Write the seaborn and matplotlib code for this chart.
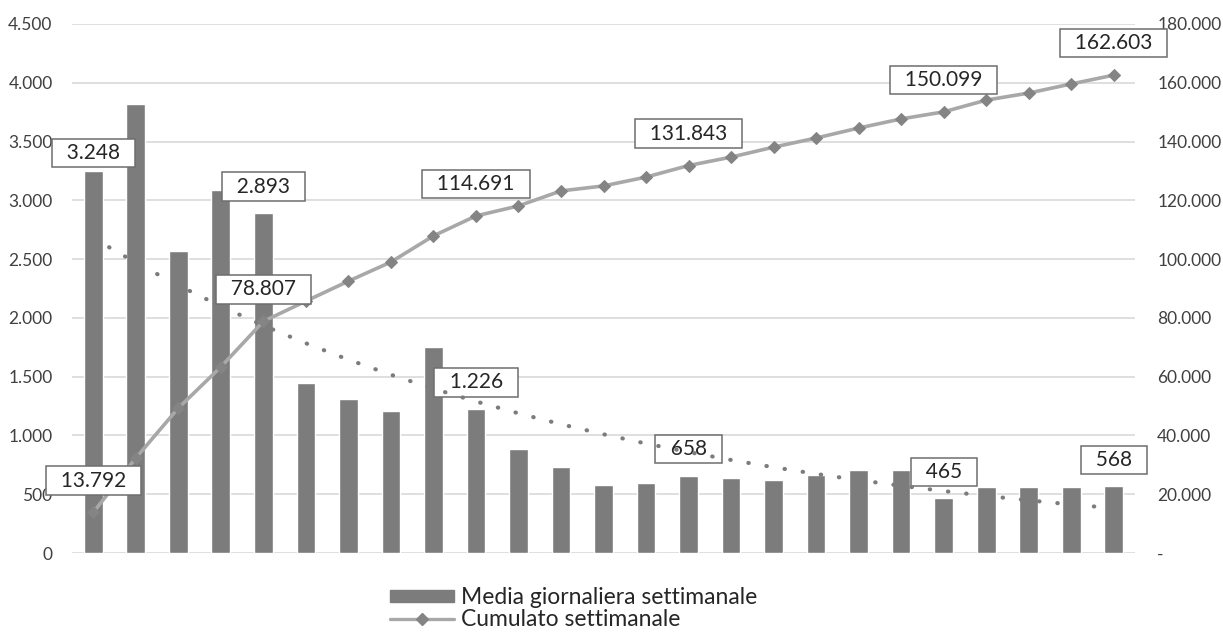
import numpy as np
import pandas as pd
import matplotlib
matplotlib.use("Agg")
import matplotlib.pyplot as plt
import matplotlib.ticker as mticker
from matplotlib.patches import Patch
from matplotlib.lines import Line2D
import seaborn as sns

# media giornaliera per settimana (asse sinistro)
media = [3248, 3820, 2565, 3088, 2893, 1450, 1310, 1208, 1752, 1226,
         885, 732, 580, 596, 658, 638, 621, 664, 706, 706,
         465, 562, 565, 565, 568]
# cumulato settimanale (asse destro)
cumulato = [13792, 32300, 49300, 63300, 78807, 85700, 92500, 99000, 107900, 114691,
            118100, 123200, 124900, 127900, 131843, 134700, 138100, 141200, 144600, 147700,
            150099, 154100, 156500, 159600, 162603]
settimane = list(range(len(media)))
etichette_idx = [0, 4, 9, 14, 20, 24]

BAR = "#7c7c7c"
LINE = "#a8a8a8"
MARK = "#848484"
TXT = "#262626"
TICK = "#404040"

sns.set_style("white")
plt.rcParams["font.family"] = ["Lato", "DejaVu Sans"]

df = pd.DataFrame({"settimana": settimane, "media": media, "cumulato": cumulato})


def it_fmt(v):
    return f"{v:,.0f}".replace(",", ".")


fig = plt.figure(figsize=(12.23, 6.32), dpi=100)
ax = fig.add_axes([72 / 1223, 79 / 632, 1063 / 1223, 529 / 632])

ax.grid(axis="y", color="#d9d9d9", lw=1.2, zorder=0)
ax.set_axisbelow(True)
sns.barplot(data=df, x="settimana", y="media", color=BAR, saturation=1,
            width=0.44, ax=ax, zorder=2)
ax.set_xlim(-0.5, len(media) - 0.5)
ax.set_ylim(0, 4500)
ax.yaxis.set_major_locator(mticker.MultipleLocator(500))
ax.yaxis.set_major_formatter(mticker.FuncFormatter(lambda v, p: it_fmt(v)))
ax.set_xticks([])
ax.set_xlabel("")
ax.set_ylabel("")
ax.tick_params(axis="y", length=0, pad=14, labelsize=12.5, labelcolor=TICK)
for s in ax.spines.values():
    s.set_visible(False)

# trend esponenziale (minimi quadrati sul logaritmo, come Excel)
xs = np.array(settimane, dtype=float)
b, a = np.polyfit(xs + 1, np.log(media), 1)
trend = np.exp(a + b * (xs + 1))
ax.plot(xs, trend, color=BAR, lw=3.0, linestyle=(0, (0.1, 4.3)),
        dash_capstyle="round", zorder=4)

for i in etichette_idx:
    dy = 13 if i == 0 else 19
    ax.annotate(f"  {it_fmt(media[i])}  ", (i, media[i]), xytext=(0, dy),
                textcoords="offset points", ha="center", va="center",
                fontsize=15, color=TXT, zorder=3,
                bbox=dict(boxstyle="square,pad=0.2", fc="white", ec="#6e6e6e", lw=1.1))

ax2 = ax.twinx()
sns.lineplot(data=df, x="settimana", y="cumulato", ax=ax2, color=LINE, lw=2.6,
             marker="D", markersize=6.5, markerfacecolor=MARK, markeredgecolor=MARK,
             zorder=5)
ax2.set_ylim(0, 180000)
ax2.yaxis.set_major_locator(mticker.MultipleLocator(20000))
ax2.yaxis.set_major_formatter(mticker.FuncFormatter(lambda v, p: "-" if v == 0 else it_fmt(v)))
ax2.set_xlim(-0.5, len(media) - 0.5)
ax2.set_ylabel("")
ax2.set_xlabel("")
ax2.tick_params(axis="y", length=0, pad=16, labelsize=12.5, labelcolor=TICK)
for s in ax2.spines.values():
    s.set_visible(False)

for i in etichette_idx:
    ax2.annotate(f"  {it_fmt(cumulato[i])}  ", (i, cumulato[i]), xytext=(0, 23),
                 textcoords="offset points", ha="center", va="center",
                 fontsize=15, color=TXT, zorder=6,
                 bbox=dict(boxstyle="square,pad=0.2", fc="white", ec="#6e6e6e", lw=1.1))

handles = [Patch(facecolor=BAR, edgecolor=BAR),
           Line2D([], [], color=LINE, lw=2.4, marker="D", markersize=6.5,
                  markerfacecolor=MARK, markeredgecolor=MARK)]
fig.legend(handles, ["Media giornaliera settimanale", "Cumulato settimanale"],
           loc="center left", bbox_to_anchor=(390 / 1223, 0.037), frameon=False,
           fontsize=16.5, labelcolor=TXT, handlelength=2.8, handleheight=0.45,
           handletextpad=0.3, labelspacing=0.05, borderpad=0, borderaxespad=0)

fig.savefig("out.png", dpi=100, facecolor="white")
